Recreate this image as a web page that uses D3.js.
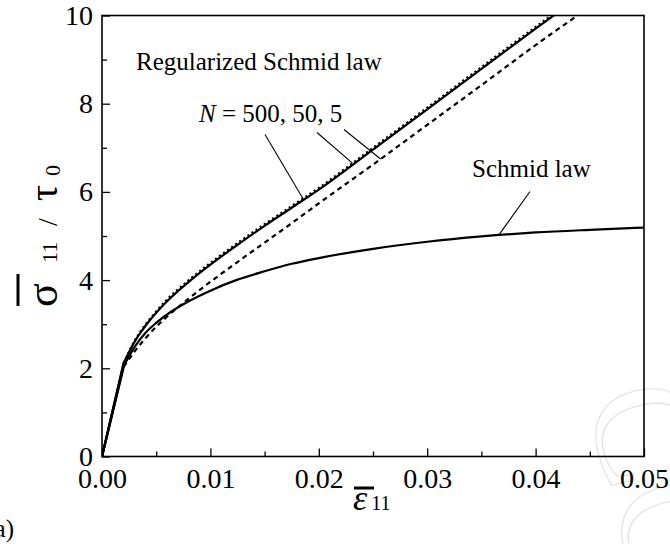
<!DOCTYPE html>
<html>
<head>
<meta charset="utf-8">
<script src="https://cdn.jsdelivr.net/npm/d3@7"></script>
<style>
  body { margin: 0; background: #fff; }
  text { font-family: "Liberation Serif", "Times New Roman", serif; fill: #000; }
</style>
</head>
<body>
<div id="chart"></div>
<script>
// strain values shared by all curves
var strain  = [0, 0.002, 0.003, 0.004, 0.005, 0.006, 0.008, 0.010, 0.0125, 0.015, 0.0175, 0.020, 0.025, 0.030, 0.035, 0.040, 0.045, 0.050];
// normalised stress for each model
var schmid  = [0, 2.05, 2.48, 2.80, 3.03, 3.22, 3.52, 3.76, 4.01, 4.20, 4.37, 4.50, 4.71, 4.87, 4.99, 5.08, 5.14, 5.19];
var regN500 = [0, 2.12, 2.60, 2.96, 3.26, 3.52, 3.96, 4.35, 4.80, 5.23, 5.64, 6.05, 6.96, 7.87, 8.79, 9.70, 10.6, 11.5];
var regN50  = [0, 2.12, 2.62, 2.99, 3.29, 3.56, 4.00, 4.39, 4.84, 5.27, 5.68, 6.09, 7.00, 7.91, 8.83, 9.74, 10.64, 11.54];
var regN5   = [0, 2.03, 2.38, 2.68, 2.94, 3.17, 3.58, 3.96, 4.41, 4.85, 5.29, 5.74, 6.62, 7.52, 8.42, 9.33, 10.2, 11.1];

var xTicks = [0, 0.01, 0.02, 0.03, 0.04, 0.05];
var xMinor = [0.005, 0.015, 0.025, 0.035, 0.045];
var yTicks = [0, 2, 4, 6, 8, 10];
var yMinor = [1, 3, 5, 7, 9];

var svg = d3.select("#chart").append("svg").attr("width", 670).attr("height", 544),
    marginLeft = 102, marginTop = 15.5,
    width = 542, height = 441;

var xScale = d3.scaleLinear().domain([0, 0.05]).range([0, width]),
    yScale = d3.scaleLinear().domain([0, 10]).range([height, 0]);

// faint watermark in the corner
svg.append("text")
   .attr("transform", "translate(585,398) rotate(75)")
   .attr("font-size", "150px")
   .style("fill", "none")
   .attr("stroke", "#e2e2e2")
   .attr("stroke-width", 1.2)
   .text("CC");

var g = svg.append("g").attr("transform", "translate(" + marginLeft + "," + marginTop + ")");

g.append("clipPath").attr("id", "clip")
 .append("rect").attr("width", width).attr("height", height);

function styleAxis(a) {
  a.select(".domain").remove();
  a.attr("font-family", "Liberation Serif, Times New Roman, serif").attr("font-size", 28);
}

// ticks (inward)
g.append("g")
 .attr("transform", "translate(0," + height + ")")
 .call(d3.axisBottom(xScale).tickValues(xTicks).tickSize(-8).tickPadding(12)
        .tickFormat(d3.format(".2f")))
 .call(styleAxis);

g.append("g")
 .attr("transform", "translate(0," + height + ")")
 .call(d3.axisBottom(xScale).tickValues(xMinor).tickSize(-5).tickFormat(""))
 .call(styleAxis);

g.append("g")
 .call(d3.axisLeft(yScale).tickValues(yTicks).tickSize(-8).tickPadding(9)
        .tickFormat(d3.format("d")))
 .call(styleAxis);

g.append("g")
 .call(d3.axisLeft(yScale).tickValues(yMinor).tickSize(-5).tickFormat(""))
 .call(styleAxis);

g.selectAll(".tick line").attr("stroke", "#000").attr("stroke-width", 1.3);

// frame
g.append("rect")
 .attr("width", width).attr("height", height)
 .attr("fill", "none").attr("stroke", "#000").attr("stroke-width", 1.6);

// curves: straight elastic part, smooth plastic part
var lineLin = d3.line().x(function(d) { return xScale(d[0]); }).y(function(d) { return yScale(d[1]); });
var lineSmooth = d3.line().curve(d3.curveMonotoneX)
                   .x(function(d) { return xScale(d[0]); }).y(function(d) { return yScale(d[1]); });

function pairs(vals) { return strain.map(function(s, i) { return [s, vals[i]]; }); }

var curves = [
  { vals: schmid,  dash: null,  w: 2.2 },
  { vals: regN5,   dash: "5,4", w: 2.2 },
  { vals: regN50,  dash: "2,3", w: 2.2 },
  { vals: regN500, dash: null,  w: 2.2 }
];

var plot = g.append("g").attr("clip-path", "url(#clip)");
curves.forEach(function(c) {
  var pts = pairs(c.vals);
  plot.append("path").attr("d", lineLin(pts.slice(0, 2)))
      .attr("fill", "none").attr("stroke", "#000").attr("stroke-width", c.w);
  plot.append("path").attr("d", lineSmooth(pts.slice(1)))
      .attr("fill", "none").attr("stroke", "#000").attr("stroke-width", c.w)
      .attr("stroke-dasharray", c.dash);
});

// annotations
g.append("text").attr("x", 34).attr("y", 54).attr("font-size", "25px")
 .text("Regularized Schmid law");

var nLabel = g.append("text").attr("x", 97).attr("y", 106).attr("font-size", "25px");
nLabel.append("tspan").attr("font-style", "italic").text("N");
nLabel.append("tspan").text(" = 500, 50, 5");

g.append("text").attr("x", 370).attr("y", 161).attr("font-size", "25px")
 .text("Schmid law");

// leader lines: [start x px, start y px, target strain, series]
var leaders = [
  [163, 119, 0.0186, regN500],
  [215, 117, 0.0231, regN50],
  [242, 114, 0.0257, regN5],
  [428, 176, 0.0366, schmid]
];
leaders.forEach(function(l) {
  var f = d3.scaleLinear().domain(strain).range(l[3]);
  g.append("line")
   .attr("x1", l[0]).attr("y1", l[1])
   .attr("x2", xScale(l[2])).attr("y2", yScale(f(l[2])))
   .attr("stroke", "#000").attr("stroke-width", 1.1);
});

// y label (rotated, each piece placed along the axis)
var yl = svg.append("g").attr("transform", "translate(57,0) rotate(-90)");
yl.append("text").attr("x", -307).attr("font-size", "44px").text("σ");
yl.append("text").attr("x", -263).attr("font-size", "22px").text("11");
yl.append("text").attr("x", -226).attr("font-size", "28px").text("/");
yl.append("text").attr("x", -201).attr("font-size", "40px").text("τ");
yl.append("text").attr("x", -176).attr("y", 3).attr("font-size", "22px").text("0");
yl.append("line").attr("x1", -306).attr("x2", -274).attr("y1", -39).attr("y2", -39)
  .attr("stroke", "#000").attr("stroke-width", 3);

// x label
var xl = svg.append("text").attr("x", 353).attr("y", 510);
xl.append("tspan").attr("font-size", "36px").attr("font-style", "italic").text("ε");
xl.append("tspan").attr("font-size", "20px").attr("dx", 4).text("11");
svg.append("line").attr("x1", 354).attr("x2", 374).attr("y1", 488).attr("y2", 488)
   .attr("stroke", "#000").attr("stroke-width", 3);

svg.append("text").attr("x", 14).attr("y", 537).attr("font-size", "25px")
   .attr("text-anchor", "end").text("(a)");
</script>
</body>
</html>
